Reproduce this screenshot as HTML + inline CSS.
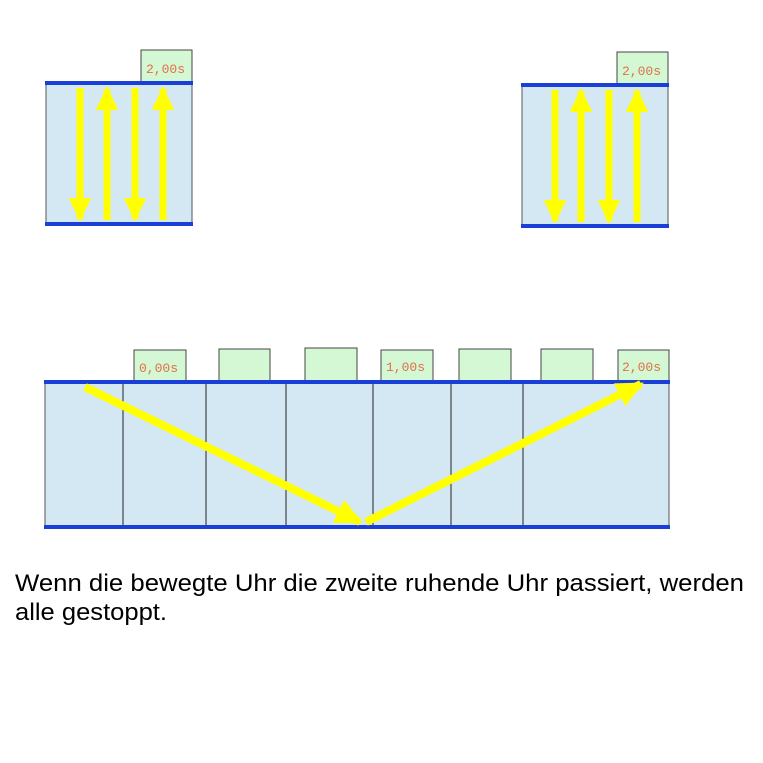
<!DOCTYPE html>
<html><head><style>
body{margin:0;background:#fff;width:763px;height:763px;overflow:hidden}
</style></head><body>
<svg width="763" height="763" xmlns="http://www.w3.org/2000/svg" style="position:absolute;left:0;top:0">
<defs>
<marker id="h" markerWidth="3.4" markerHeight="3.2" refX="3" refY="1.6" orient="auto" markerUnits="strokeWidth">
<path d="M0,0 L3.4,1.6 L0,3.2 z" fill="#ffff00"/></marker>
</defs>
<g font-family="Liberation Mono, monospace" font-size="13" fill="#e0704a">
<rect x="141" y="50" width="51" height="33" fill="#d4f7d4" stroke="#444" stroke-width="1"/>
<text x="146" y="73">2,00s</text>
<rect x="46" y="83" width="146" height="141" fill="#d4e8f4" stroke="#555" stroke-width="1"/>
<line x1="45" y1="83" x2="193" y2="83" stroke="#1a3fd8" stroke-width="4"/>
<line x1="45" y1="224" x2="193" y2="224" stroke="#1a3fd8" stroke-width="4"/>
<rect x="617" y="52" width="51" height="33" fill="#d4f7d4" stroke="#444" stroke-width="1"/>
<text x="622" y="75">2,00s</text>
<rect x="522" y="85" width="146" height="141" fill="#d4e8f4" stroke="#555" stroke-width="1"/>
<line x1="521" y1="85" x2="669" y2="85" stroke="#1a3fd8" stroke-width="4"/>
<line x1="521" y1="226" x2="669" y2="226" stroke="#1a3fd8" stroke-width="4"/>
<rect x="134" y="350" width="52" height="32" fill="#d4f7d4" stroke="#444"/>
<text x="139" y="372">0,00s</text>
<rect x="219" y="349" width="51" height="33" fill="#d4f7d4" stroke="#444"/>
<rect x="305" y="348" width="52" height="34" fill="#d4f7d4" stroke="#444"/>
<rect x="381" y="350" width="52" height="32" fill="#d4f7d4" stroke="#444"/>
<text x="386" y="371">1,00s</text>
<rect x="459" y="349" width="52" height="33" fill="#d4f7d4" stroke="#444"/>
<rect x="541" y="349" width="52" height="33" fill="#d4f7d4" stroke="#444"/>
<rect x="618" y="350" width="51" height="32" fill="#d4f7d4" stroke="#444"/>
<text x="622" y="371">2,00s</text>
<rect x="45" y="382" width="624" height="145" fill="#d4e8f4" stroke="#555"/>
<g stroke="#222" stroke-width="1">
<line x1="123" y1="382" x2="123" y2="527"/><line x1="206" y1="382" x2="206" y2="527"/>
<line x1="286" y1="382" x2="286" y2="527"/><line x1="373" y1="382" x2="373" y2="527"/>
<line x1="451" y1="382" x2="451" y2="527"/><line x1="523" y1="382" x2="523" y2="527"/>
</g>
<line x1="44" y1="382" x2="670" y2="382" stroke="#1a3fd8" stroke-width="4"/>
<line x1="44" y1="527" x2="670" y2="527" stroke="#1a3fd8" stroke-width="4"/>
</g>
<g stroke="#ffff00" stroke-width="7" marker-end="url(#h)">
<line x1="80" y1="88" x2="80" y2="219"/>
<line x1="107" y1="220" x2="107" y2="89"/>
<line x1="135" y1="88" x2="135" y2="219"/>
<line x1="163" y1="220" x2="163" y2="89"/>
<line x1="555" y1="90" x2="555" y2="221"/>
<line x1="581" y1="222" x2="581" y2="91"/>
<line x1="609" y1="90" x2="609" y2="221"/>
<line x1="637" y1="222" x2="637" y2="91"/>
<line x1="85" y1="387" x2="360" y2="522" stroke-width="8"/>
<line x1="366" y1="522" x2="641" y2="384" stroke-width="8"/>
</g>
<g font-family="Liberation Sans, Arial, sans-serif" font-size="24" fill="#000">
<text x="15" y="591" textLength="729" lengthAdjust="spacingAndGlyphs">Wenn die bewegte Uhr die zweite ruhende Uhr passiert, werden</text>
<text x="15" y="620" textLength="152" lengthAdjust="spacingAndGlyphs">alle gestoppt.</text>
</g>
</svg>
</body></html>
